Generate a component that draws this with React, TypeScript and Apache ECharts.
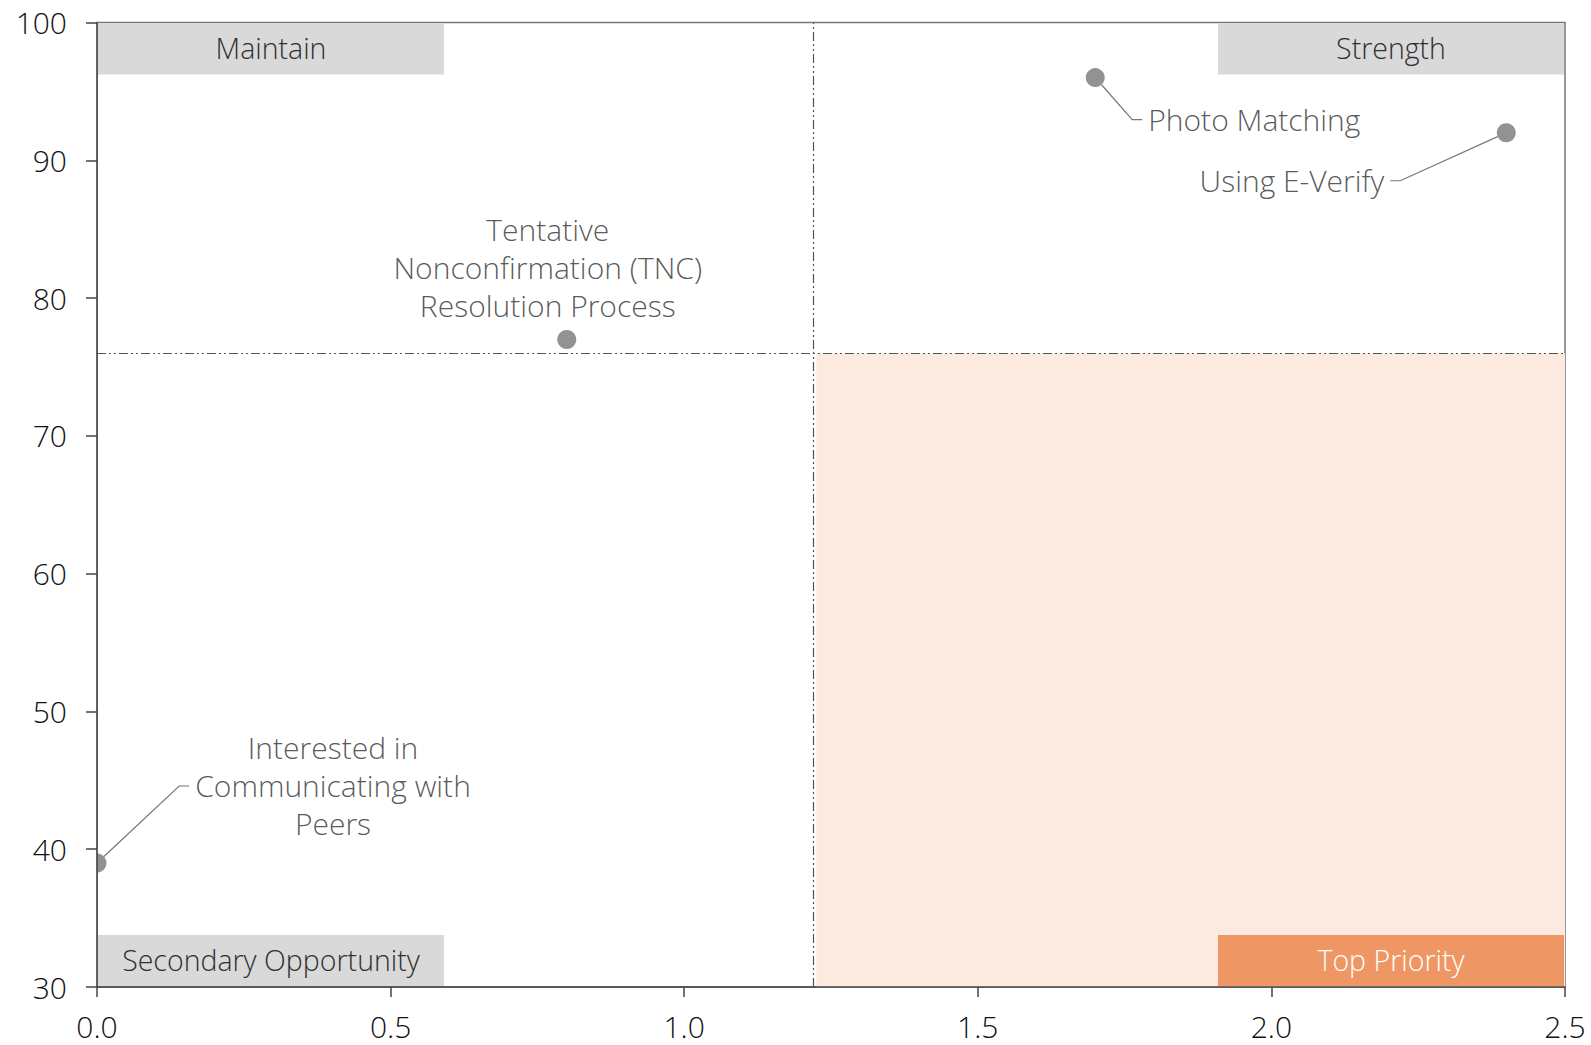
import React, { useEffect, useRef } from "react";
import * as echarts from "echarts";

// Importance (x) vs. satisfaction (y) for each E-Verify attribute
const attributeNames = [
  "Photo Matching",
  "Using E-Verify",
  "Tentative\nNonconfirmation (TNC)\nResolution Process",
  "Interested in\nCommunicating with\nPeers",
];
const importanceValues = [1.7, 2.4, 0.8, 0.0];
const satisfactionValues = [96, 92, 77, 39];

// Axis ranges and tick steps
const xRange = [0, 2.5];
const xStep = 0.5;
const yRange = [30, 100];
const yStep = 10;

// Quadrant captions: top-left, top-right, bottom-left, bottom-right
const quadrantNames = ["Maintain", "Strength", "Secondary Opportunity", "Top Priority"];

// Label placement relative to each dot (pixels)
const labelPlacement = [
  { dx: 47, dy: 42, align: "left", line: true },
  { dx: -116, dy: 48, align: "right", line: true },
  { dx: -19, dy: -72, align: "center", line: false },
  { dx: 236, dy: -77, align: "center", line: true },
];

const W = 1591;
const H = 1045;
const GRID = { left: 97, right: 26, top: 22.5, bottom: 58 };
const FONT = "'Open Sans', sans-serif";
const WEIGHT = 300;
const BOX_W = 346;
const BOX_H = 51;

const mean = (arr: number[]) => arr.reduce((a, b) => a + b, 0) / arr.length;

export default function App() {
  const ref = useRef<HTMLDivElement>(null);

  useEffect(() => {
    if (!ref.current) return;
    const chart = echarts.init(ref.current, undefined, { renderer: "svg" });

    const meanX = mean(importanceValues);
    const meanY = mean(satisfactionValues);

    const gridRight = W - GRID.right;
    const gridBottom = H - GRID.bottom;

    const boxes = [
      { x: GRID.left + 1, y: GRID.top + 1, fill: "#D9D9D9", color: "#303030" },
      { x: gridRight - BOX_W - 1, y: GRID.top + 1, fill: "#D9D9D9", color: "#303030" },
      { x: GRID.left + 1, y: gridBottom - BOX_H - 1, fill: "#D9D9D9", color: "#303030" },
      { x: gridRight - BOX_W - 1, y: gridBottom - BOX_H - 1, fill: "#EE9664", color: "#FFFFFF" },
    ];

    const graphics: any[] = [
      // hides the part of a dot that falls left of the y axis
      {
        type: "rect",
        z: 3,
        silent: true,
        shape: { x: 0, y: 0, width: GRID.left - 0.5, height: H },
        style: { fill: "#FFFFFF" },
      },
    ];
    quadrantNames.forEach((name, i) => {
      graphics.push({
        type: "rect",
        z: 5,
        silent: true,
        shape: { x: boxes[i].x, y: boxes[i].y, width: BOX_W, height: BOX_H },
        style: { fill: boxes[i].fill },
      });
      graphics.push({
        type: "text",
        z: 6,
        silent: true,
        x: boxes[i].x + BOX_W / 2,
        y: boxes[i].y + BOX_H / 2 - 1,
        style: {
          text: name,
          align: "center",
          verticalAlign: "middle",
          fill: boxes[i].color,
          fontSize: 28.5,
          fontFamily: FONT,
          fontWeight: WEIGHT,
        },
      });
    });

    const option: any = {
      animation: false,
      backgroundColor: "#FFFFFF",
      grid: {
        left: GRID.left,
        right: GRID.right,
        top: GRID.top,
        bottom: GRID.bottom,
        show: true,
        borderColor: "#777777",
        borderWidth: 1.5,
        backgroundColor: "transparent",
      },
      xAxis: {
        type: "value",
        min: xRange[0],
        max: xRange[1],
        interval: xStep,
        z: 10,
        axisLine: { show: true, onZero: false, lineStyle: { color: "#444444", width: 1.5 } },
        axisTick: { show: true, length: 10, lineStyle: { color: "#444444", width: 1.5 } },
        axisLabel: {
          fontSize: 30,
          fontFamily: FONT,
          fontWeight: WEIGHT,
          color: "#111111",
          margin: 24,
          formatter: (v: number) => v.toFixed(1),
        },
        splitLine: { show: false },
      },
      yAxis: {
        type: "value",
        min: yRange[0],
        max: yRange[1],
        interval: yStep,
        z: 10,
        axisLine: { show: true, onZero: false, lineStyle: { color: "#444444", width: 1.5 } },
        axisTick: { show: true, length: 11, lineStyle: { color: "#444444", width: 1.5 } },
        axisLabel: {
          fontSize: 30,
          fontFamily: FONT,
          fontWeight: WEIGHT,
          color: "#111111",
          margin: 30,
        },
        splitLine: { show: false },
      },
      graphic: graphics,
      series: [
        {
          type: "scatter",
          symbol: "circle",
          symbolSize: 19,
          itemStyle: { color: "#777777" },
          emphasis: { disabled: true },
          data: importanceValues.map((x, i) => ({
            name: attributeNames[i],
            value: [x, satisfactionValues[i]],
            labelLine: { show: labelPlacement[i].line },
          })),
          label: {
            show: true,
            formatter: "{b}",
            fontSize: 30,
            lineHeight: 38,
            fontFamily: FONT,
            fontWeight: WEIGHT,
            color: "#2E2E2E",
            padding: [0, 6],
          },
          labelLine: {
            show: true,
            length2: 10,
            lineStyle: { color: "#777777", width: 1.2 },
          },
          labelLayout: (params: any) => {
            const p = labelPlacement[params.dataIndex];
            const cx = params.rect.x + params.rect.width / 2;
            const cy = params.rect.y + params.rect.height / 2;
            return { x: cx + p.dx, y: cy + p.dy, align: p.align, verticalAlign: "middle" };
          },
          markArea: {
            silent: true,
            itemStyle: { color: "#FCE9DF" },
            data: [[{ xAxis: meanX, yAxis: yRange[0] }, { xAxis: xRange[1], yAxis: meanY }]],
          },
          markLine: {
            silent: true,
            symbol: "none",
            label: { show: false },
            lineStyle: { color: "#555555", width: 1.2, type: [9, 3, 2, 3, 2, 3] },
            data: [{ xAxis: meanX }, { yAxis: meanY }],
          },
        },
      ],
    };

    chart.setOption(option);
    return () => chart.dispose();
  }, []);

  return (
    <div
      ref={ref}
      style={{ position: "fixed", left: 0, top: 0, width: W, height: H }}
    />
  );
}
